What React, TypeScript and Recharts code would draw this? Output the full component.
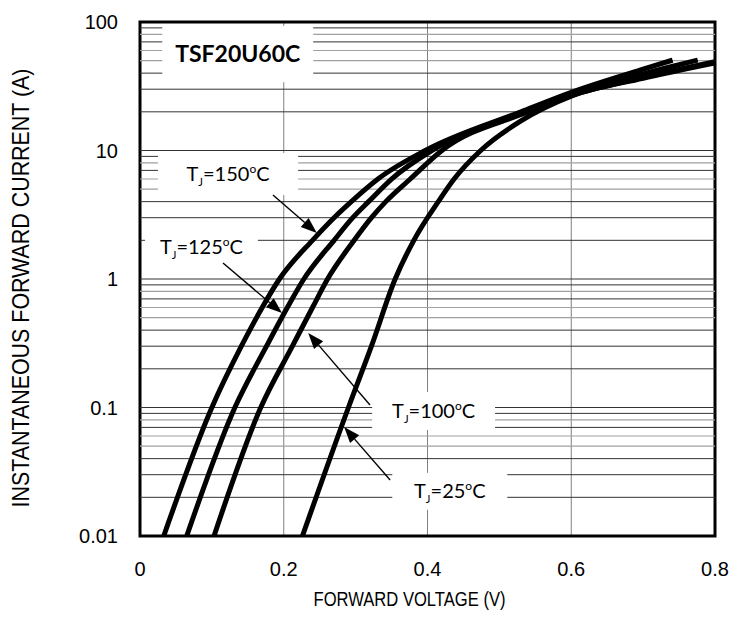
import React from "react";
import {
  CartesianGrid,
  Line,
  LineChart,
  ReferenceArea,
  ReferenceLine,
  XAxis,
  YAxis,
} from "recharts";

// forward voltage (V) vs instantaneous forward current (A)
const tj150 = [
  { v: 0.033, i: 0.01 }, { v: 0.1, i: 0.1 }, { v: 0.141, i: 0.3 },
  { v: 0.17, i: 0.6 }, { v: 0.194, i: 1 }, { v: 0.24, i: 2 },
  { v: 0.27, i: 3 }, { v: 0.294, i: 4 }, { v: 0.331, i: 6 },
  { v: 0.397, i: 10 }, { v: 0.53, i: 20 }, { v: 0.6, i: 28.4 },
  { v: 0.7, i: 43 }, { v: 0.741, i: 50.5 },
];
const tj125 = [
  { v: 0.065, i: 0.01 }, { v: 0.132, i: 0.1 }, { v: 0.176, i: 0.3 },
  { v: 0.205, i: 0.6 }, { v: 0.228, i: 1 }, { v: 0.27, i: 2 },
  { v: 0.296, i: 3 }, { v: 0.318, i: 4 }, { v: 0.35, i: 6 },
  { v: 0.406, i: 10 }, { v: 0.53, i: 19.5 }, { v: 0.6, i: 27.5 },
  { v: 0.7, i: 39.5 }, { v: 0.776, i: 50.5 },
];
const tj100 = [
  { v: 0.103, i: 0.01 }, { v: 0.168, i: 0.1 }, { v: 0.212, i: 0.3 },
  { v: 0.24, i: 0.6 }, { v: 0.261, i: 1 }, { v: 0.298, i: 2 },
  { v: 0.322, i: 3 }, { v: 0.342, i: 4 }, { v: 0.376, i: 6 },
  { v: 0.42, i: 10 }, { v: 0.535, i: 19.5 }, { v: 0.6, i: 26.8 },
  { v: 0.7, i: 37 }, { v: 0.8, i: 49 },
];
const tj25 = [
  { v: 0.226, i: 0.01 }, { v: 0.29, i: 0.1 }, { v: 0.322, i: 0.3 },
  { v: 0.355, i: 1 }, { v: 0.381, i: 2 }, { v: 0.415, i: 4 },
  { v: 0.437, i: 6 }, { v: 0.474, i: 10 }, { v: 0.53, i: 17 },
  { v: 0.6, i: 26.5 }, { v: 0.7, i: 36.5 }, { v: 0.8, i: 48 },
];

const voltageTicks = [0, 0.2, 0.4, 0.6, 0.8];
const currentTicks = [0.01, 0.1, 1, 10, 100];
const gridDark = [
  0.02, 0.03, 0.04, 0.07, 0.09, 0.1, 0.2, 0.3, 0.4, 0.7, 0.9, 1,
  2, 3, 4, 7, 9, 10, 20, 30, 40, 70, 90,
];
const gridLight = [0.05, 0.06, 0.08, 0.5, 0.6, 0.8, 5, 6, 8, 50, 60, 80];

// white label boxes [v1, v2, i1, i2] and the text they hold
const partBox = [0.031, 0.241, 34, 93];
const tempBoxes = [
  { temp: "150", box: [0.025, 0.22, 4.5, 9.55] },
  { temp: "125", box: [0.007, 0.164, 1.2, 2.6] },
  { temp: "100", box: [0.323, 0.494, 0.0668, 0.132] },
  { temp: "25", box: [0.351, 0.511, 0.016, 0.031] },
];
// leader arrows: tail -> head
const arrows = [
  [{ x: 0.185, y: 4.5 }, { x: 0.246, y: 2.28 }],
  [{ x: 0.1155, y: 1.33 }, { x: 0.1976, y: 0.543 }],
  [{ x: 0.32, y: 0.1046 }, { x: 0.234, y: 0.38 }],
  [{ x: 0.348, y: 0.0273 }, { x: 0.284, y: 0.0705 }],
];

const tickFont = { fontFamily: "Liberation Sans, Arial", fontSize: 20, fill: "#000" };

function Arrow(props: any) {
  const { x1, y1, x2, y2 } = props;
  const ang = Math.atan2(y2 - y1, x2 - x1);
  const len = 16;
  const half = 6;
  const bx = x2 - len * Math.cos(ang);
  const by = y2 - len * Math.sin(ang);
  const px = -Math.sin(ang) * half;
  const py = Math.cos(ang) * half;
  return (
    <g>
      <line x1={x1} y1={y1} x2={bx} y2={by} stroke="#000" strokeWidth={1.4} />
      <polygon
        points={`${x2},${y2} ${bx + px},${by + py} ${bx - px},${by - py}`}
        fill="#000"
      />
    </g>
  );
}

// white box spanning the segment's two corners, with its text in the middle
const boxShape = (content: (cx: number, cy: number) => React.ReactNode) => (props: any) => {
  const { x1, y1, x2, y2 } = props;
  const x = Math.min(x1, x2);
  const y = Math.min(y1, y2);
  const w = Math.abs(x2 - x1);
  const h = Math.abs(y2 - y1);
  return (
    <g>
      <rect x={x} y={y} width={w} height={h} fill="#fff" />
      {content(x + w / 2, y + h / 2)}
    </g>
  );
};

const tempText = (temp: string) => (cx: number, cy: number) => (
  <text x={cx} y={cy + 7} textAnchor="middle" fontFamily="Lato, Open Sans" fontSize={20} fill="#000">
    T<tspan fontSize={11} dy={5}>J</tspan>
    <tspan dy={-5}>={temp}</tspan>
    <tspan fontSize={12} dy={-8}>o</tspan>
    <tspan dy={8}>C</tspan>
  </text>
);

const partText = (cx: number, cy: number) => (
  <text
    x={cx}
    y={cy + 8}
    textAnchor="middle"
    fontFamily="Lato, Open Sans"
    fontWeight="bold"
    fontSize={23}
    fill="#000"
  >
    TSF20U60C
  </text>
);

const boxSegment = (b: number[]) => [
  { x: b[0], y: b[3] },
  { x: b[1], y: b[2] },
];

const xTitle = (props: any) => {
  const vb = props.viewBox;
  return (
    <text
      x={vb.x + vb.width / 2 - 18}
      y={606}
      textAnchor="middle"
      fontFamily="Liberation Sans Narrow, Liberation Sans"
      fontSize={20}
      textLength={192}
      lengthAdjust="spacingAndGlyphs"
      fill="#000"
    >
      FORWARD VOLTAGE (V)
    </text>
  );
};

const yTitle = () => {
  const cy = 288;
  return (
    <text
      x={29}
      y={cy}
      transform={`rotate(-90 29 ${cy})`}
      textAnchor="middle"
      fontFamily="Liberation Sans Narrow, Liberation Sans"
      fontSize={24}
      textLength={439}
      lengthAdjust="spacingAndGlyphs"
      fill="#000"
    >
      INSTANTANEOUS FORWARD CURRENT (A)
    </text>
  );
};

const series = [tj150, tj125, tj100, tj25];

export default function App() {
  return (
    <div style={{ position: "absolute", left: 0, top: 0, background: "#fff" }}>
      <LineChart
        width={731}
        height={634}
        margin={{ top: 22, right: 16, bottom: 58, left: 0 }}
      >
        <CartesianGrid horizontal={false} stroke="#808080" strokeWidth={1} />
        <XAxis
          dataKey="v"
          type="number"
          domain={[0, 0.8]}
          ticks={voltageTicks}
          allowDataOverflow
          axisLine={false}
          tickLine={false}
          tickSize={6}
          tickMargin={20}
          height={40}
          tick={tickFont}
          label={{ content: xTitle }}
        />
        <YAxis
          dataKey="i"
          type="number"
          scale="log"
          domain={[0.01, 100]}
          ticks={currentTicks}
          allowDataOverflow
          axisLine={false}
          tickLine={false}
          tickSize={6}
          tickMargin={16}
          width={140}
          tick={tickFont}
          tickFormatter={(t: number) => String(t)}
          label={{ content: yTitle }}
        />
        {gridLight.map((y) => (
          <ReferenceLine key={"l" + y} y={y} stroke="#a0a0a0" strokeWidth={1.2} />
        ))}
        {gridDark.map((y) => (
          <ReferenceLine key={"d" + y} y={y} stroke="#333" strokeWidth={1} />
        ))}
        <ReferenceLine segment={boxSegment(partBox)} shape={boxShape(partText)} />
        {tempBoxes.map((b) => (
          <ReferenceLine
            key={"b" + b.temp}
            segment={boxSegment(b.box)}
            shape={boxShape(tempText(b.temp))}
          />
        ))}
        {series.map((s, k) => (
          <Line
            key={k}
            data={s}
            dataKey="i"
            type="monotone"
            stroke="#000"
            strokeWidth={5}
            dot={false}
            isAnimationActive={false}
          />
        ))}
        {arrows.map((seg, k) => (
          <ReferenceLine key={"a" + k} segment={seg} shape={Arrow} />
        ))}
        <ReferenceArea
          x1={0}
          x2={0.8}
          y1={0.01}
          y2={100}
          fill="none"
          stroke="#000"
          strokeWidth={3}
        />
      </LineChart>
    </div>
  );
}
